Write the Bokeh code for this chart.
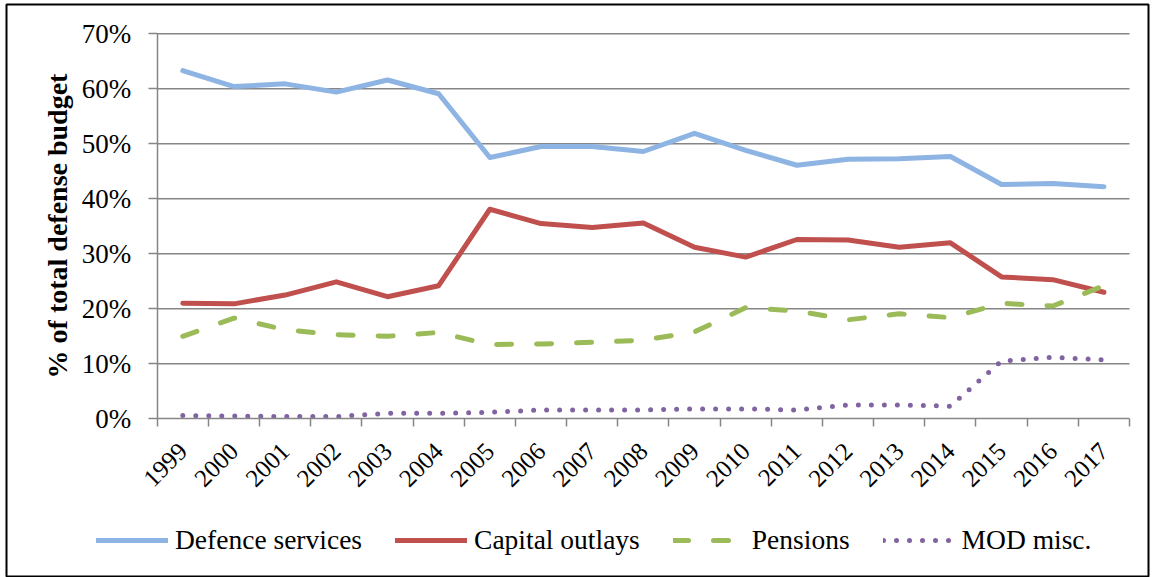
import math
from bokeh.plotting import figure
from bokeh.models import (Range1d, FixedTicker, PrintfTickFormatter, Legend,
                          LegendItem, ColumnDataSource)
from bokeh.embed import file_html
from bokeh.resources import INLINE

years = ["1999", "2000", "2001", "2002", "2003", "2004", "2005", "2006", "2007",
         "2008", "2009", "2010", "2011", "2012", "2013", "2014", "2015", "2016", "2017"]
defence = [63.3, 60.4, 60.9, 59.4, 61.6, 59.1, 47.5, 49.5, 49.5, 48.6,
           51.9, 48.8, 46.1, 47.2, 47.3, 47.7, 42.6, 42.8, 42.2]
capital = [21.0, 20.9, 22.5, 24.9, 22.2, 24.2, 38.1, 35.5, 34.8, 35.6,
           31.2, 29.4, 32.6, 32.5, 31.2, 32.0, 25.8, 25.3, 23.0]
pensions = [15.0, 18.3, 16.2, 15.3, 15.0, 15.7, 13.5, 13.6, 13.9, 14.3,
            15.8, 20.2, 19.6, 18.0, 19.1, 18.4, 21.0, 20.5, 24.2]
mod_misc = [0.6, 0.5, 0.4, 0.4, 1.0, 1.0, 1.2, 1.6, 1.6, 1.6,
            1.8, 1.8, 1.6, 2.5, 2.5, 2.3, 10.5, 11.2, 10.7]
series_names = ["Defence services", "Capital outlays", "Pensions", "MOD misc."]
y_ticks = [0, 10, 20, 30, 40, 50, 60, 70]

n = len(years)
y_max = y_ticks[-1]
xpos = [i + 0.5 for i in range(n)]
src = ColumnDataSource(dict(x=xpos, defence=defence, capital=capital,
                            pensions=pensions, mod=mod_misc))
grid_src = ColumnDataSource(dict(y=y_ticks[1:], x0=[0] * (len(y_ticks) - 1),
                                 x1=[n] * (len(y_ticks) - 1)))

# layout geometry (pixels)
W, H = 1152, 577
FRAME_L, FRAME_R, FRAME_T, FRAME_B = 6, 1148, 4, 577
PLOT_L, PLOT_R, PLOT_T, PLOT_B = 156.7, 1129.0, 33.3, 418.3
ux = (PLOT_R - PLOT_L) / n
uy = (PLOT_B - PLOT_T) / y_max
x_rng = Range1d(-(PLOT_L - FRAME_L) / ux, n + (FRAME_R - PLOT_R) / ux)
y_rng = Range1d(-(FRAME_B - PLOT_B) / uy, y_max + (PLOT_T - FRAME_T) / uy)

FONT = "Liberation Serif"
GRID = "#868686"

p = figure(width=W, height=H, output_backend="svg", toolbar_location=None,
           x_range=x_rng, y_range=y_rng,
           min_border_left=FRAME_L, min_border_right=W - FRAME_R,
           min_border_top=FRAME_T, min_border_bottom=H - FRAME_B,
           background_fill_color="white", border_fill_color="white")
p.outline_line_color = "black"
p.outline_line_width = 2
p.grid.visible = False

p.segment(x0="x0", x1="x1", y0="y", y1="y", source=grid_src,
          line_color=GRID, line_width=1.5)

r1 = p.line("x", "defence", source=src, line_color="#8DB4E2", line_width=5,
            line_cap="round", line_join="round")
r2 = p.line("x", "capital", source=src, line_color="#C0504D", line_width=5,
            line_cap="round", line_join="round")
r3 = p.line("x", "pensions", source=src, line_color="#9BBB59", line_width=5,
            line_cap="round", line_join="round", line_dash="15 25")
r4 = p.line("x", "mod", source=src, line_color="#8064A2", line_width=5,
            line_cap="round", line_join="round", line_dash="0 13")

# Y axis
ya = p.yaxis[0]
ya.fixed_location = 0
ya.bounds = (0, y_max)
ya.ticker = FixedTicker(ticks=y_ticks)
ya.formatter = PrintfTickFormatter(format="%d%%")
ya.major_label_text_font = FONT
ya.major_label_text_font_size = "27px"
ya.major_label_text_color = "black"
ya.major_tick_out = 9
ya.major_tick_in = 0
ya.major_tick_line_color = GRID
ya.major_tick_line_width = 1.5
ya.minor_tick_line_color = None
ya.axis_line_color = GRID
ya.axis_line_width = 1.5
ya.major_label_standoff = 17
ya.axis_label = "% of total defense budget"
ya.axis_label_text_font = FONT
ya.axis_label_text_font_style = "bold"
ya.axis_label_text_font_size = "28px"
ya.axis_label_text_color = "black"
ya.axis_label_standoff = 6

# X axis
xa = p.xaxis[0]
xa.fixed_location = 0
xa.bounds = (0, n)
xa.ticker = FixedTicker(ticks=xpos, minor_ticks=list(range(n + 1)))
xa.major_label_overrides = {xv: yr for xv, yr in zip(xpos, years)}
xa.major_label_orientation = math.pi / 4
xa.major_label_text_font = FONT
xa.major_label_text_font_size = "25px"
xa.major_label_text_color = "black"
xa.major_label_standoff = 20
xa.major_tick_out = 0
xa.major_tick_in = 0
xa.minor_tick_out = 8
xa.minor_tick_in = 0
xa.minor_tick_line_color = GRID
xa.minor_tick_line_width = 1.5
xa.axis_line_color = GRID
xa.axis_line_width = 1.5

legend = Legend(items=[LegendItem(label=series_names[0], renderers=[r1]),
                       LegendItem(label=series_names[1], renderers=[r2]),
                       LegendItem(label=series_names[2], renderers=[r3]),
                       LegendItem(label=series_names[3], renderers=[r4])],
                orientation="horizontal", location=(90, 21),
                glyph_width=72, glyph_height=32, label_height=32,
                label_standoff=7, spacing=33, padding=0, margin=0,
                border_line_color=None, background_fill_alpha=0,
                label_text_font=FONT, label_text_font_size="27.5px",
                label_text_color="black")
p.add_layout(legend, "center")

open("out.html", "w").write(file_html(p, INLINE))
